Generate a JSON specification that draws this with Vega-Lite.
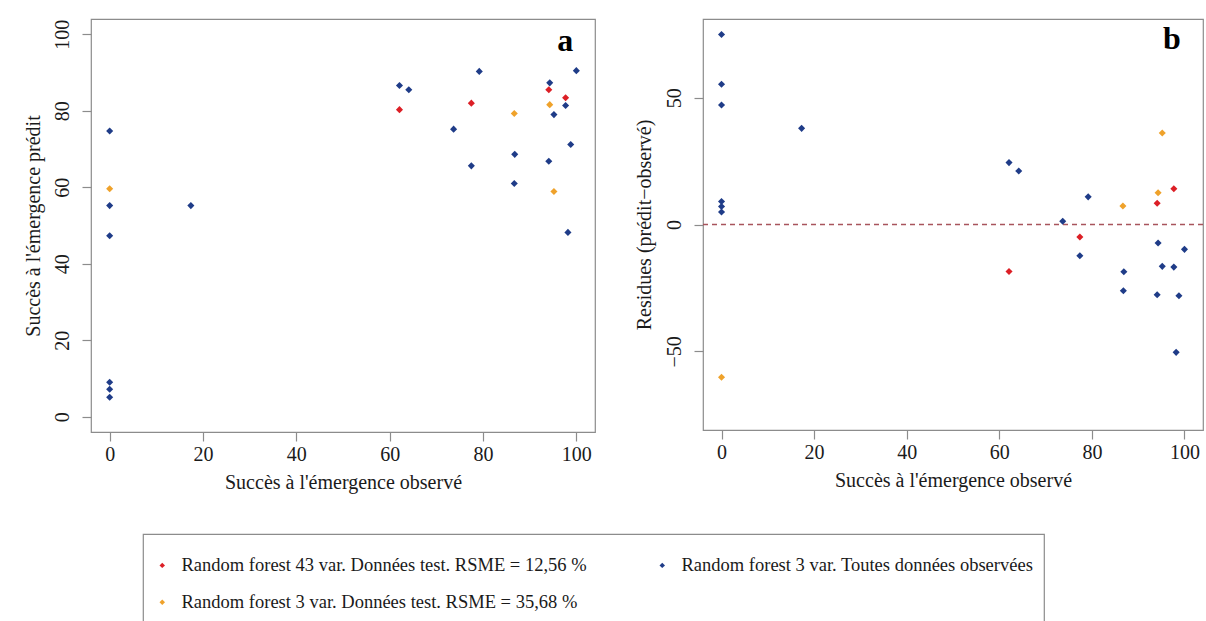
{
  "$schema": "https://vega.github.io/schema/vega-lite/v6.json",
  "background": "white",
  "padding": {"left": 22, "top": 18, "right": 5, "bottom": 5},
  "datasets": {
    "obs_pred": [
      {"modele": "Random forest 3 var. Toutes données observées", "observe": 0, "predit": 74.7},
      {"modele": "Random forest 3 var. Toutes données observées", "observe": 0, "predit": 55.2},
      {"modele": "Random forest 3 var. Toutes données observées", "observe": 0, "predit": 47.3},
      {"modele": "Random forest 3 var. Toutes données observées", "observe": 0, "predit": 9.0},
      {"modele": "Random forest 3 var. Toutes données observées", "observe": 0, "predit": 7.2},
      {"modele": "Random forest 3 var. Toutes données observées", "observe": 0, "predit": 5.1},
      {"modele": "Random forest 3 var. Toutes données observées", "observe": 17.4, "predit": 55.2},
      {"modele": "Random forest 3 var. Toutes données observées", "observe": 62.1, "predit": 86.6},
      {"modele": "Random forest 3 var. Toutes données observées", "observe": 64.1, "predit": 85.5},
      {"modele": "Random forest 3 var. Toutes données observées", "observe": 79.2, "predit": 90.3},
      {"modele": "Random forest 3 var. Toutes données observées", "observe": 73.7, "predit": 75.2},
      {"modele": "Random forest 3 var. Toutes données observées", "observe": 77.5, "predit": 65.6},
      {"modele": "Random forest 3 var. Toutes données observées", "observe": 86.8, "predit": 68.6},
      {"modele": "Random forest 3 var. Toutes données observées", "observe": 86.7, "predit": 61.0},
      {"modele": "Random forest 3 var. Toutes données observées", "observe": 94.3, "predit": 87.3},
      {"modele": "Random forest 3 var. Toutes données observées", "observe": 95.2, "predit": 79.0},
      {"modele": "Random forest 3 var. Toutes données observées", "observe": 94.1, "predit": 66.8},
      {"modele": "Random forest 3 var. Toutes données observées", "observe": 97.7, "predit": 81.4},
      {"modele": "Random forest 3 var. Toutes données observées", "observe": 98.8, "predit": 71.2},
      {"modele": "Random forest 3 var. Toutes données observées", "observe": 98.2, "predit": 48.2},
      {"modele": "Random forest 3 var. Toutes données observées", "observe": 100, "predit": 90.5},
      {"modele": "Random forest 43 var. Données test. RSME = 12,56 %", "observe": 62.1, "predit": 80.3},
      {"modele": "Random forest 43 var. Données test. RSME = 12,56 %", "observe": 77.5, "predit": 82.0},
      {"modele": "Random forest 43 var. Données test. RSME = 12,56 %", "observe": 94.1, "predit": 85.5},
      {"modele": "Random forest 43 var. Données test. RSME = 12,56 %", "observe": 97.7, "predit": 83.4},
      {"modele": "Random forest 3 var. Données test. RSME = 35,68 %", "observe": 0, "predit": 59.6},
      {"modele": "Random forest 3 var. Données test. RSME = 35,68 %", "observe": 86.7, "predit": 79.3},
      {"modele": "Random forest 3 var. Données test. RSME = 35,68 %", "observe": 94.3, "predit": 81.6},
      {"modele": "Random forest 3 var. Données test. RSME = 35,68 %", "observe": 95.2, "predit": 58.9}
    ],
    "residus": [
      {"modele": "Random forest 3 var. Toutes données observées", "observe": 0, "residu": 74.9},
      {"modele": "Random forest 3 var. Toutes données observées", "observe": 0, "residu": 55.3},
      {"modele": "Random forest 3 var. Toutes données observées", "observe": 0, "residu": 47.1},
      {"modele": "Random forest 3 var. Toutes données observées", "observe": 0, "residu": 9.1},
      {"modele": "Random forest 3 var. Toutes données observées", "observe": 0, "residu": 7.1},
      {"modele": "Random forest 3 var. Toutes données observées", "observe": 0, "residu": 4.9},
      {"modele": "Random forest 3 var. Toutes données observées", "observe": 17.3, "residu": 37.9},
      {"modele": "Random forest 3 var. Toutes données observées", "observe": 62.1, "residu": 24.4},
      {"modele": "Random forest 3 var. Toutes données observées", "observe": 64.2, "residu": 21.1},
      {"modele": "Random forest 3 var. Toutes données observées", "observe": 73.7, "residu": 1.3},
      {"modele": "Random forest 3 var. Toutes données observées", "observe": 79.2, "residu": 10.9},
      {"modele": "Random forest 3 var. Toutes données observées", "observe": 77.4, "residu": -12.3},
      {"modele": "Random forest 3 var. Toutes données observées", "observe": 86.9, "residu": -18.6},
      {"modele": "Random forest 3 var. Toutes données observées", "observe": 86.8, "residu": -26.1},
      {"modele": "Random forest 3 var. Toutes données observées", "observe": 94.3, "residu": -7.3},
      {"modele": "Random forest 3 var. Toutes données observées", "observe": 95.2, "residu": -16.5},
      {"modele": "Random forest 3 var. Toutes données observées", "observe": 97.7, "residu": -16.8},
      {"modele": "Random forest 3 var. Toutes données observées", "observe": 100, "residu": -9.8},
      {"modele": "Random forest 3 var. Toutes données observées", "observe": 94.1, "residu": -27.7},
      {"modele": "Random forest 3 var. Toutes données observées", "observe": 98.8, "residu": -28.1},
      {"modele": "Random forest 3 var. Toutes données observées", "observe": 98.2, "residu": -50.4},
      {"modele": "Random forest 43 var. Données test. RSME = 12,56 %", "observe": 62.1, "residu": -18.5},
      {"modele": "Random forest 43 var. Données test. RSME = 12,56 %", "observe": 77.4, "residu": -4.9},
      {"modele": "Random forest 43 var. Données test. RSME = 12,56 %", "observe": 94.1, "residu": 8.4},
      {"modele": "Random forest 43 var. Données test. RSME = 12,56 %", "observe": 97.7, "residu": 14.1},
      {"modele": "Random forest 3 var. Données test. RSME = 35,68 %", "observe": 0, "residu": -60.2},
      {"modele": "Random forest 3 var. Données test. RSME = 35,68 %", "observe": 86.7, "residu": 7.3},
      {"modele": "Random forest 3 var. Données test. RSME = 35,68 %", "observe": 94.3, "residu": 12.5},
      {"modele": "Random forest 3 var. Données test. RSME = 35,68 %", "observe": 95.2, "residu": 36.1}
    ]
  },
  "config": {
    "view": {"stroke": "#8c8c8c", "strokeWidth": 1.2},
    "font": "Liberation Serif",
    "style": {"guide-label": {"font": "Liberation Serif", "fontSize": 20}, "guide-title": {"font": "Liberation Serif", "fontSize": 20}},
    "axis": {
      "grid": false, "domain": false,
      "tickColor": "#8c8c8c", "tickSize": 9, "tickWidth": 1.2,
      "labelFont": "Liberation Serif", "labelFontSize": 20, "labelColor": "#1a1a1a",
      "titleFont": "Liberation Serif", "titleFontSize": 20, "titleFontWeight": "normal", "titleColor": "#1a1a1a"
    },
    "axisX": {"labelPadding": 3, "titlePadding": 8},
    "axisY": {"labelAngle": -90, "labelAlign": "center", "labelBaseline": "bottom", "labelPadding": 10, "titlePadding": 9},
    "legend": {
      "orient": "none", "legendX": 52, "legendY": 515,
      "columns": 2, "columnPadding": 66, "rowPadding": 18,
      "padding": 10, "strokeColor": "#8c8c8c", "strokeWidth": 1.2, "fillColor": "white",
      "symbolType": "diamond", "symbolSize": 30, "symbolStrokeWidth": 0,
      "labelFont": "Liberation Serif", "labelFontSize": 18.5, "labelColor": "#1a1a1a",
      "labelLimit": 700, "labelOffset": 10,
      "titleFontSize": 8, "titlePadding": 4, "titleColor": "white"
    }
  },
  "spacing": 37,
  "resolve": {"scale": {"color": "shared"}},
  "hconcat": [
    {
      "width": 504, "height": 413,
      "layer": [
        {
          "data": {"name": "obs_pred"},
          "mark": {"type": "point", "shape": "diamond", "filled": true, "size": 50, "opacity": 1},
          "encoding": {
            "x": {"field": "observe", "type": "quantitative",
                  "scale": {"domain": [-4, 104], "nice": false, "zero": false},
                  "axis": {"values": [0, 20, 40, 60, 80, 100], "title": "Succès à l'émergence observé", "labelFont": "Liberation Serif", "labelFontSize": 20}},
            "y": {"field": "predit", "type": "quantitative",
                  "scale": {"domain": [-4, 104], "nice": false, "zero": false},
                  "axis": {"values": [0, 20, 40, 60, 80, 100], "title": "Succès à l'émergence prédit", "labelFont": "Liberation Serif", "labelFontSize": 20}},
            "color": {"field": "modele", "type": "nominal",
                      "scale": {"domain": ["Random forest 43 var. Données test. RSME = 12,56 %", "Random forest 3 var. Données test. RSME = 35,68 %", "Random forest 3 var. Toutes données observées"],
                                "range": ["#dc1f26", "#efa22b", "#1f3c88"]},
                      "legend": {"title": " "}}
          }
        },
        {
          "data": {"values": [{}]},
          "mark": {"type": "text", "font": "Liberation Serif", "fontSize": 32, "fontWeight": "bold", "color": "black"},
          "encoding": {
            "x": {"datum": 97.6, "type": "quantitative"},
            "y": {"datum": 98.2, "type": "quantitative"},
            "text": {"value": "a"}
          }
        }
      ]
    },
    {
      "width": 500, "height": 411,
      "layer": [
        {
          "data": {"values": [{}]},
          "mark": {"type": "rule", "color": "#a8545c", "strokeDash": [5, 4], "strokeWidth": 1.5},
          "encoding": {
            "y": {"datum": 0, "type": "quantitative"}
          }
        },
        {
          "data": {"name": "residus"},
          "mark": {"type": "point", "shape": "diamond", "filled": true, "size": 50, "opacity": 1},
          "encoding": {
            "x": {"field": "observe", "type": "quantitative",
                  "scale": {"domain": [-4, 104], "nice": false, "zero": false},
                  "axis": {"values": [0, 20, 40, 60, 80, 100], "title": "Succès à l'émergence observé", "labelFont": "Liberation Serif", "labelFontSize": 20}},
            "y": {"field": "residu", "type": "quantitative",
                  "scale": {"domain": [-81, 81], "nice": false, "zero": false},
                  "axis": {"values": [-50, 0, 50], "title": "Residues (prédit−observé)", "titlePadding": 10, "labelFont": "Liberation Serif", "labelFontSize": 20}},
            "color": {"field": "modele", "type": "nominal",
                      "scale": {"domain": ["Random forest 43 var. Données test. RSME = 12,56 %", "Random forest 3 var. Données test. RSME = 35,68 %", "Random forest 3 var. Toutes données observées"],
                                "range": ["#dc1f26", "#efa22b", "#1f3c88"]},
                      "legend": {"title": " "}}
          }
        },
        {
          "data": {"values": [{}]},
          "mark": {"type": "text", "font": "Liberation Serif", "fontSize": 32, "fontWeight": "bold", "color": "black"},
          "encoding": {
            "x": {"datum": 97.3, "type": "quantitative"},
            "y": {"datum": 73.0, "type": "quantitative"},
            "text": {"value": "b"}
          }
        }
      ]
    }
  ]
}
